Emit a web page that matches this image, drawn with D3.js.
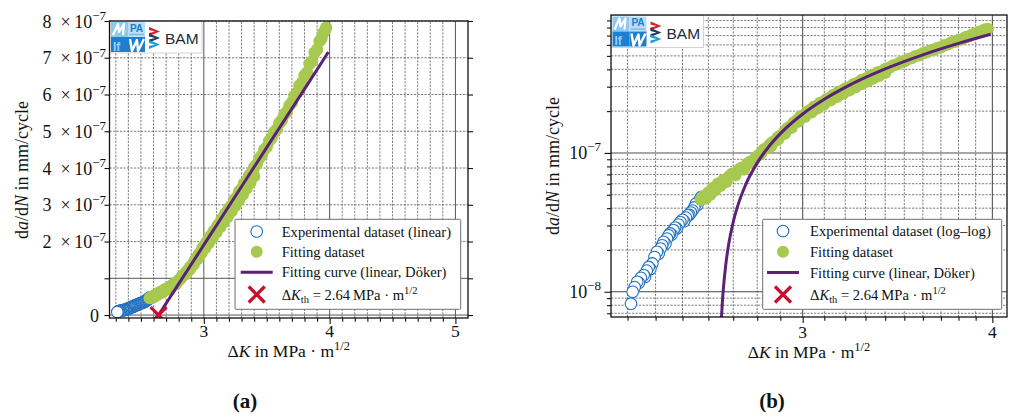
<!DOCTYPE html>
<html>
<head>
<meta charset="utf-8">
<script src="https://cdn.jsdelivr.net/npm/d3@7"></script>
<style>
  body { margin: 0; background: #fff; }
  svg { display: block; }
  text { font-family: "Liberation Serif", "Times New Roman", serif; fill: #111; }
</style>
</head>
<body>
<svg id="fig" width="1014" height="417"></svg>
<script>
// ---- Measured crack growth data (ΔK in MPa·m^1/2, da/dN in mm/cycle) ----
const blueK = [2.312,2.318,2.325,2.334,2.340,2.347,2.357,2.362,2.368,2.375,2.381,2.388,2.396,2.405,2.411,2.418,2.424,2.429,2.436,2.442,
               2.448,2.453,2.459,2.466,2.472,2.478,2.485,2.492,2.500,2.506,2.513,2.520,2.526,2.532,2.538,2.545,2.551,2.557,2.564,2.571];
const blueRate = [0.82e-8,1.00e-8,1.08e-8,1.18e-8,1.16e-8,1.26e-8,1.32e-8,1.28e-8,1.42e-8,1.51e-8,1.46e-8,1.60e-8,1.78e-8,1.94e-8,1.88e-8,2.05e-8,2.16e-8,2.29e-8,2.22e-8,2.42e-8,
                  2.55e-8,2.63e-8,2.58e-8,2.78e-8,2.90e-8,2.86e-8,3.05e-8,3.18e-8,3.30e-8,3.22e-8,3.42e-8,3.55e-8,3.58e-8,3.72e-8,3.85e-8,4.05e-8,4.30e-8,4.22e-8,4.55e-8,4.80e-8];

const greenK = [2.570,2.582,2.590,2.600,2.608,2.618,2.628,2.638,2.648,2.660,2.672,2.684,2.696,2.708,2.720,2.732,2.744,2.756,2.768,2.780,
                2.792,2.804,2.816,2.828,2.840,2.852,2.864,2.876,2.888,2.900,2.915,2.930,2.945,2.960,2.975,2.990,3.005,3.020,3.035,3.050,
                3.065,3.080,3.095,3.110,3.125,3.140,3.155,3.170,3.185,3.200,3.220,3.240,3.260,3.280,3.300,3.320,3.340,3.360,3.380,3.400,
                3.420,3.440,3.460,3.480,3.500,3.520,3.540,3.560,3.580,3.600,3.620,3.640,3.660,3.680,3.700,3.720,3.740,3.760,3.780,3.800,
                3.820,3.840,3.860,3.880,3.900,3.920,3.935,3.950,3.962,3.972,
                2.860,2.890,2.920,2.950,2.980,3.010,3.040,3.070,3.100,3.130,3.160,3.190,3.220,3.250,3.280,3.310,3.340,3.370,3.400];
const greenRate = [0.46e-7,0.49e-7,0.47e-7,0.52e-7,0.50e-7,0.56e-7,0.54e-7,0.60e-7,0.58e-7,0.64e-7,0.62e-7,0.68e-7,0.71e-7,0.69e-7,0.75e-7,0.78e-7,0.76e-7,0.83e-7,0.86e-7,0.85e-7,
                   0.92e-7,0.96e-7,0.99e-7,1.06e-7,1.08e-7,1.14e-7,1.19e-7,1.22e-7,1.29e-7,1.33e-7,1.40e-7,1.50e-7,1.56e-7,1.66e-7,1.72e-7,1.83e-7,1.88e-7,1.98e-7,2.04e-7,2.14e-7,
                   2.19e-7,2.29e-7,2.34e-7,2.44e-7,2.49e-7,2.60e-7,2.65e-7,2.76e-7,2.80e-7,2.91e-7,2.98e-7,3.13e-7,3.20e-7,3.36e-7,3.43e-7,3.58e-7,3.65e-7,3.80e-7,3.87e-7,4.02e-7,
                   4.10e-7,4.26e-7,4.34e-7,4.50e-7,4.57e-7,4.74e-7,4.82e-7,4.98e-7,5.05e-7,5.22e-7,5.30e-7,5.46e-7,5.53e-7,5.70e-7,5.78e-7,5.96e-7,6.05e-7,6.25e-7,6.32e-7,6.52e-7,
                   6.60e-7,6.83e-7,6.90e-7,7.14e-7,7.22e-7,7.45e-7,7.52e-7,7.68e-7,7.74e-7,7.82e-7,
                   1.12e-7,1.25e-7,1.38e-7,1.52e-7,1.68e-7,1.82e-7,1.96e-7,2.10e-7,2.25e-7,2.39e-7,2.53e-7,2.67e-7,2.82e-7,2.97e-7,3.13e-7,3.28e-7,3.44e-7,3.60e-7,3.77e-7];

// Linear Döker fit: da/dN rising from the threshold
const fitK = [2.640,2.645,2.650,2.655,2.660,2.670,2.680,2.700,2.720,2.750,2.800,2.850,2.900,3.000,3.100,3.200,3.400,3.600,3.800,3.990];
const fitRate = [0,0.265e-8,0.53e-8,0.795e-8,1.06e-8,1.59e-8,2.12e-8,3.18e-8,4.24e-8,5.83e-8,8.48e-8,11.13e-8,13.78e-8,19.08e-8,24.38e-8,29.68e-8,40.28e-8,50.88e-8,61.48e-8,71.55e-8];

const thresholdK = 2.64;
const thresholdRate = 0;

// ---- Ticks ----
const linYTicks = [0,1e-7,2e-7,3e-7,4e-7,5e-7,6e-7,7e-7,8e-7];
const linYMantissa = ["0","","2","3","4","5","6","7","8"];
const linYSolid = [0,1e-7];
const linXMajor = [3,4,5];
const linXMinor = [2.3,2.4,2.5,2.6,2.7,2.8,2.9,3.1,3.2,3.3,3.4,3.5,3.6,3.7,3.8,3.9,4.1,4.2,4.3,4.4,4.5,4.6,4.7,4.8,4.9];
const logXMajor = [3,4];
const logXMinor = [2.3,2.4,2.5,2.6,2.7,2.8,2.9,3.1,3.2,3.3,3.4,3.5,3.6,3.7,3.8,3.9];
const logYMajor = [1e-8,1e-7];
const logYExponent = ["−8","−7"];
const logYMinor = [7e-9,8e-9,9e-9,2e-8,3e-8,4e-8,5e-8,6e-8,7e-8,8e-8,9e-8,2e-7,3e-7,4e-7,5e-7,6e-7,7e-7,8e-7,9e-7];

const COLORS = { blue: "#1f6fbf", green: "#a8c94f", purple: "#5b2179", red: "#c8102e" };

const svg = d3.select("#fig");

function gridLines(g, x, y, xs, ys, dashed, color, width) {
  const [x0, x1] = x.range(), [y0, y1] = y.range();
  g.selectAll(null).data(xs).join("line")
    .attr("x1", d => x(d)).attr("x2", d => x(d)).attr("y1", y0).attr("y2", y1)
    .attr("stroke", color).attr("stroke-width", width)
    .attr("stroke-dasharray", dashed ? "2.2,1.3" : null);
  g.selectAll(null).data(ys).join("line")
    .attr("y1", d => y(d)).attr("y2", d => y(d)).attr("x1", x0).attr("x2", x1)
    .attr("stroke", color).attr("stroke-width", width)
    .attr("stroke-dasharray", dashed ? "2.2,1.3" : null);
}

function styleAxis(g) {
  g.select(".domain").remove();
  g.selectAll(".tick line").attr("stroke", "#111").attr("stroke-width", 1.1);
  g.selectAll(".tick text").remove();
}

function drawLogo(g, bx, by) {
  const L = g.append("g");
  L.append("rect").attr("x", bx).attr("y", by).attr("width", 92).attr("height", 32)
    .attr("fill", "#fff").attr("stroke", "#c8c8c8").attr("stroke-width", 0.8);
  // MPA IfW tiles
  L.append("rect").attr("x", bx + 1).attr("y", by + 1).attr("width", 17).attr("height", 15).attr("fill", "#8ec8f0");
  L.append("rect").attr("x", bx + 18).attr("y", by + 1).attr("width", 17).attr("height", 15).attr("fill", "#b9def5");
  L.append("rect").attr("x", bx + 1).attr("y", by + 16).attr("width", 17).attr("height", 15).attr("fill", "#1b7fd2");
  L.append("rect").attr("x", bx + 18).attr("y", by + 16).attr("width", 17).attr("height", 15).attr("fill", "#1b7fd2");
  L.append("polyline")
    .attr("points", `${bx+3},${by+14} ${bx+8},${by+3} ${bx+9},${by+11} ${bx+14},${by+3} ${bx+13},${by+14}`)
    .attr("fill", "none").attr("stroke", "#fff").attr("stroke-width", 2.2).attr("stroke-linejoin", "round");
  L.append("polyline")
    .attr("points", `${bx+20},${by+18} ${bx+22},${by+30} ${bx+27},${by+19} ${bx+28},${by+30} ${bx+34},${by+18}`)
    .attr("fill", "none").attr("stroke", "#fff").attr("stroke-width", 2.4).attr("stroke-linejoin", "round");
  L.append("text").attr("x", bx + 26.5).attr("y", by + 10.5).attr("text-anchor", "middle")
    .style("font-family", "'Liberation Sans', Arial, sans-serif").style("font-weight", "bold")
    .style("font-size", "10px").style("fill", "#1b7fd2").text("PA");
  L.append("line").attr("x1", bx + 19).attr("x2", bx + 34).attr("y1", by + 13.5).attr("y2", by + 13.5)
    .attr("stroke", "#7fb6dc").attr("stroke-width", 1.2);
  L.append("text").attr("x", bx + 3).attr("y", by + 29.5)
    .style("font-family", "'Liberation Sans', Arial, sans-serif").style("font-weight", "bold")
    .style("font-size", "12px").style("fill", "#9dd0f3").text("If");
  // BAM chevrons
  const chev = (yy, col) => L.append("polygon")
    .attr("points", `${bx+39},${yy} ${bx+50},${yy+4.5} ${bx+39},${yy+9} ${bx+39},${yy+6} ${bx+45},${yy+4.5} ${bx+39},${yy+3}`)
    .attr("fill", col);
  chev(by + 6, "#d2232a");
  chev(by + 12.5, "#1d3d5c");
  chev(by + 19, "#1e9ad8");
  L.append("text").attr("x", bx + 55).attr("y", by + 23)
    .style("font-family", "'Liberation Sans', Arial, sans-serif")
    .style("font-size", "15.5px").style("fill", "#1e2a38").text("BAM");
}

function drawLegend(g, box, mx, tx, rows, expLabel) {
  const G = g.append("g");
  G.append("rect").attr("x", box[0]).attr("y", box[1]).attr("width", box[2]).attr("height", box[3])
    .attr("fill", "#fff").attr("stroke", "#6e6e6e").attr("stroke-width", 1).attr("rx", 1);
  const fs = "14.6px";
  G.append("circle").attr("cx", mx).attr("cy", rows[0]).attr("r", 5.8)
    .attr("fill", "#fff").attr("stroke", COLORS.blue).attr("stroke-width", 1.1);
  G.append("circle").attr("cx", mx).attr("cy", rows[1]).attr("r", 6)
    .attr("fill", COLORS.green);
  G.append("line").attr("x1", mx - 16).attr("x2", mx + 16).attr("y1", rows[2]).attr("y2", rows[2])
    .attr("stroke", COLORS.purple).attr("stroke-width", 3);
  G.append("path").attr("d", `M${mx-8},${rows[3]-8}L${mx+8},${rows[3]+8}M${mx-8},${rows[3]+8}L${mx+8},${rows[3]-8}`)
    .attr("stroke", COLORS.red).attr("stroke-width", 3.2).attr("fill", "none");
  const lbls = [expLabel, "Fitting dataset", "Fitting curve (linear, Döker)"];
  lbls.forEach((s, i) => G.append("text").attr("x", tx).attr("y", rows[i] + 5).style("font-size", fs).text(s));
  const t = G.append("text").attr("x", tx).attr("y", rows[3] + 5).style("font-size", fs);
  t.append("tspan").text("Δ");
  t.append("tspan").style("font-style", "italic").text("K");
  t.append("tspan").attr("dy", 3).style("font-size", "10.5px").text("th");
  t.append("tspan").attr("dy", -3).text(" = " + thresholdK.toFixed(2) + "\u2009MPa · m");
  t.append("tspan").attr("dy", -6).style("font-size", "10.5px").text("1/2");
}

function xLabel(g, cx, yb) {
  const t = g.append("text").attr("x", cx).attr("y", yb).attr("text-anchor", "middle").style("font-size", "17.5px");
  t.append("tspan").text("Δ");
  t.append("tspan").style("font-style", "italic").text("K");
  t.append("tspan").text(" in MPa · m");
  t.append("tspan").attr("dy", -7).style("font-size", "12.5px").text("1/2");
}

function yLabel(g, xb, cy) {
  const t = g.append("text").attr("transform", `translate(${xb},${cy}) rotate(-90)`)
    .attr("text-anchor", "middle").style("font-size", "18px");
  t.append("tspan").text("d");
  t.append("tspan").style("font-style", "italic").text("a");
  t.append("tspan").text("/d");
  t.append("tspan").style("font-style", "italic").text("N");
  t.append("tspan").text(" in mm/cycle");
}

function markers(g, x, y, clipId, filterPos) {
  const D = g.append("g").attr("clip-path", `url(#${clipId})`);
  const blue = blueK.map((k, i) => [k, blueRate[i]]).reverse();
  D.selectAll(null).data(blue).join("circle")
    .attr("cx", d => x(d[0])).attr("cy", d => y(d[1])).attr("r", 5.8)
    .attr("fill", "#fff").attr("stroke", COLORS.blue).attr("stroke-width", 1.1);
  const green = greenK.map((k, i) => [k, greenRate[i]]);
  D.selectAll(null).data(green).join("circle")
    .attr("cx", d => x(d[0])).attr("cy", d => y(d[1])).attr("r", 6.2)
    .attr("fill", COLORS.green);
  let fit = fitK.map((k, i) => [k, fitRate[i]]);
  if (filterPos) fit = fit.filter(d => d[1] > 0);
  D.append("path").datum(fit)
    .attr("d", d3.line().x(d => x(d[0])).y(d => y(d[1])).curve(d3.curveMonotoneX))
    .attr("fill", "none").attr("stroke", COLORS.purple).attr("stroke-width", 3);
  return D;
}

// ================= Panel (a): linear axes =================
{
  const x = d3.scaleLinear().domain([2.25, 5.1]).range([109.5, 468]);
  const y = d3.scaleLinear().domain([-0.08e-7, 8e-7]).range([318, 21]);
  const g = svg.append("g");
  svg.append("clipPath").attr("id", "clipA").append("rect")
    .attr("x", 109.5).attr("y", 21).attr("width", 468 - 109.5).attr("height", 318 - 21);

  gridLines(g, x, y, linXMinor, linYTicks.filter(v => !linYSolid.includes(v)), true, "#5a5a5a", 0.8);
  gridLines(g, x, y, linXMajor, linYSolid, false, "#555", 1);

  drawLogo(g, 110, 21);

  const D = markers(g, x, y, "clipA", false);
  D.append("path")
    .attr("d", `M${x(thresholdK)-8},${y(thresholdRate)-8}L${x(thresholdK)+8},${y(thresholdRate)+8}M${x(thresholdK)-8},${y(thresholdRate)+8}L${x(thresholdK)+8},${y(thresholdRate)-8}`)
    .attr("stroke", COLORS.red).attr("stroke-width", 3.2).attr("fill", "none");

  drawLegend(g, [235, 219.3, 225.7, 90], 256.7, 281.7, [231.5, 251.8, 272.2, 294.5], "Experimental dataset (linear)");

  // frame
  g.append("rect").attr("x", 109.5).attr("y", 21).attr("width", 468 - 109.5).attr("height", 318 - 21)
    .attr("fill", "none").attr("stroke", "#111").attr("stroke-width", 1.3);

  // ticks
  g.append("g").attr("transform", "translate(0,318)")
    .call(d3.axisBottom(x).tickValues(linXMajor).tickSize(6)).call(styleAxis);
  g.append("g").attr("transform", "translate(0,318)")
    .call(d3.axisBottom(x).tickValues(linXMinor).tickSize(3.8)).call(styleAxis);
  g.append("g").attr("transform", "translate(109.5,0)")
    .call(d3.axisLeft(y).tickValues(linYTicks).tickSize(5)).call(styleAxis);
  g.append("g").attr("transform", "translate(468,0)")
    .call(d3.axisRight(y).tickValues(linYTicks).tickSize(5)).call(styleAxis);

  // tick labels
  linXMajor.forEach(v => g.append("text").attr("x", x(v)).attr("y", 337)
    .attr("text-anchor", "middle").style("font-size", "17.5px").text(v));
  linYTicks.forEach((v, i) => {
    const m = linYMantissa[i];
    if (!m) return;
    if (v === 0) {
      g.append("text").attr("x", 99).attr("y", y(v) + 6.5).attr("text-anchor", "end").style("font-size", "18px").text(m);
    } else {
      const t = g.append("text").attr("x", 106).attr("y", y(v) + 6.5).attr("text-anchor", "end").style("font-size", "18px");
      t.append("tspan").text(m + "\u2002×\u200910");
      t.append("tspan").attr("dy", -7.5).style("font-size", "13px").text("−7");
    }
  });

  xLabel(g, 288.8, 357);
  yLabel(g, 28, 170);
  g.append("text").attr("x", 245).attr("y", 408).attr("text-anchor", "middle")
    .style("font-size", "21px").style("font-weight", "bold").text("(a)");
}

// ================= Panel (b): log–log axes =================
{
  const x = d3.scaleLog().domain([2.243, 4.09]).range([611, 1007]);
  const y = d3.scaleLog().domain([6.58e-9, 9.85e-7]).range([317, 15]);
  const g = svg.append("g");
  svg.append("clipPath").attr("id", "clipB").append("rect")
    .attr("x", 611).attr("y", 15).attr("width", 1007 - 611).attr("height", 317 - 15);

  gridLines(g, x, y, logXMinor, logYMinor, true, "#5a5a5a", 0.8);
  gridLines(g, x, y, logXMajor, [1e-8], false, "#444", 1);
  gridLines(g, x, y, [], [1e-7], false, "#8a8a8a", 1.4);

  drawLogo(g, 611.5, 15.5);

  markers(g, x, y, "clipB", true);

  drawLegend(g, [762.7, 219.3, 239, 90], 783, 810, [231, 251.8, 272.5, 294.5], "Experimental dataset (log–log)");

  g.append("rect").attr("x", 611).attr("y", 15).attr("width", 1007 - 611).attr("height", 317 - 15)
    .attr("fill", "none").attr("stroke", "#111").attr("stroke-width", 1.3);

  g.append("g").attr("transform", "translate(0,317)")
    .call(d3.axisBottom(x).tickValues(logXMajor).tickSize(6)).call(styleAxis);
  g.append("g").attr("transform", "translate(0,317)")
    .call(d3.axisBottom(x).tickValues(logXMinor).tickSize(3.8)).call(styleAxis);
  g.append("g").attr("transform", "translate(611,0)")
    .call(d3.axisLeft(y).tickValues(logYMajor).tickSize(6.5)).call(styleAxis);
  g.append("g").attr("transform", "translate(611,0)")
    .call(d3.axisLeft(y).tickValues(logYMinor).tickSize(4)).call(styleAxis);

  logXMajor.forEach(v => g.append("text").attr("x", x(v)).attr("y", 338)
    .attr("text-anchor", "middle").style("font-size", "17.5px").text(v));
  logYMajor.forEach((v, i) => {
    const t = g.append("text").attr("x", 601).attr("y", y(v) + 6).attr("text-anchor", "end").style("font-size", "18px");
    t.append("tspan").text("10");
    t.append("tspan").attr("dy", -7.5).style("font-size", "13px").text(logYExponent[i]);
  });

  xLabel(g, 809, 358);
  yLabel(g, 559, 166);
  g.append("text").attr("x", 772).attr("y", 408).attr("text-anchor", "middle")
    .style("font-size", "21px").style("font-weight", "bold").text("(b)");
}
</script>
</body>
</html>
